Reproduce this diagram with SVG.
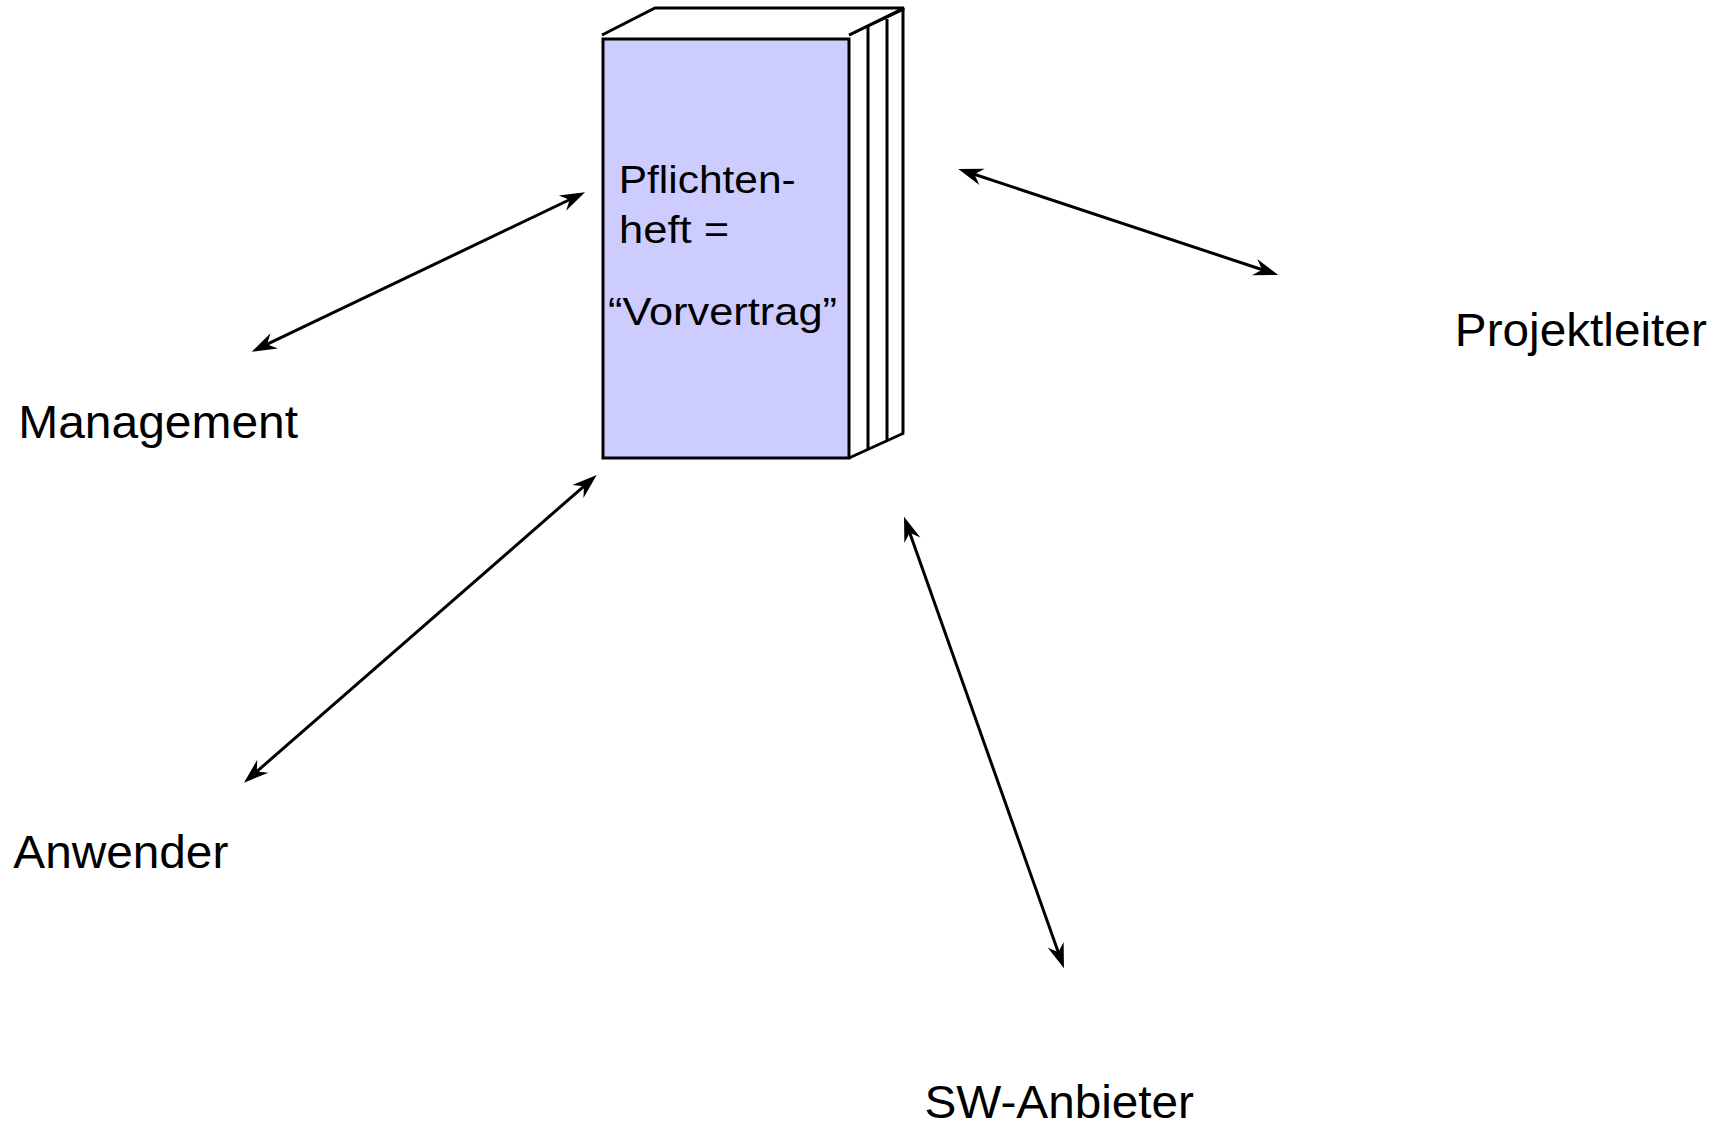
<svg xmlns="http://www.w3.org/2000/svg" width="1729" height="1127" viewBox="0 0 1729 1127">
  <style>
    .label { font-family: "Liberation Sans", Arial, sans-serif; font-size: 46px; fill: #000; }
    .booktext { font-family: "Liberation Sans", Arial, sans-serif; font-size: 39px; fill: #000; }
    .edge { stroke: #000; stroke-width: 3; stroke-linejoin: miter; }
    .conn { stroke: #000; stroke-width: 3; fill: none; marker-start: url(#head); marker-end: url(#head); }
  </style>
  <defs>
    <!-- barbed arrowhead; tip sits 8px beyond the line end -->
    <marker id="head" markerUnits="userSpaceOnUse" viewBox="-20 -10 30 20" markerWidth="30" markerHeight="20" refX="0" refY="0" orient="auto-start-reverse">
      <path d="M8,0 L-17,-8.5 L-9,0 L-17,8.5 Z" fill="#000"/>
    </marker>
  </defs>
  <rect width="1729" height="1127" fill="#fff"/>

  <!-- document: Pflichtenheft drawn as a book -->
  <g id="pflichtenheft">
    <!-- page edges on the right side -->
    <polygon points="849,35 904,9 904,433 849,458" fill="#fff"/>
    <line class="edge" x1="868" y1="27" x2="868" y2="449"/>
    <line class="edge" x1="887" y1="19" x2="887" y2="440"/>
    <line class="edge" x1="903" y1="8" x2="903" y2="433"/>
    <polyline class="edge" fill="none" points="849,35 904,9"/>
    <polyline class="edge" fill="none" points="849,458 904,433"/>
    <!-- top face -->
    <polyline class="edge" fill="#fff" points="602,35 655,8 904,8 849,35"/>
    <!-- cover -->
    <rect class="edge" x="603" y="39" width="246" height="419" fill="#CCCCFF"/>
    <text class="booktext" x="618.7" y="193.3" textLength="177" lengthAdjust="spacingAndGlyphs">Pflichten-</text>
    <text class="booktext" x="619.1" y="243.3" textLength="110" lengthAdjust="spacingAndGlyphs">heft =</text>
    <text class="booktext" x="608" y="325" textLength="229" lengthAdjust="spacingAndGlyphs">“Vorvertrag”</text>
  </g>

  <g id="management">
    <text class="label" x="18.3" y="437.7" textLength="279.7" lengthAdjust="spacingAndGlyphs">Management</text>
  </g>
  <g id="projektleiter">
    <text class="label" x="1454.8" y="346" textLength="252" lengthAdjust="spacingAndGlyphs">Projektleiter</text>
  </g>
  <g id="anwender">
    <text class="label" x="13.3" y="867.7" textLength="215" lengthAdjust="spacingAndGlyphs">Anwender</text>
  </g>
  <g id="sw-anbieter">
    <text class="label" x="924.5" y="1118" textLength="269.5" lengthAdjust="spacingAndGlyphs">SW-Anbieter</text>
  </g>

  <!-- two-way connectors between the stakeholders and the document -->
  <g id="connectors">
    <line class="conn" x1="258.9" y1="348.2" x2="577.8" y2="195.75"/>
    <line class="conn" x1="965.9" y1="171.5" x2="1270.7" y2="272.5"/>
    <line class="conn" x1="590.7" y1="480.3" x2="250.0" y2="777.4"/>
    <line class="conn" x1="906.7" y1="524.2" x2="1061.3" y2="960.8"/>
  </g>
</svg>
